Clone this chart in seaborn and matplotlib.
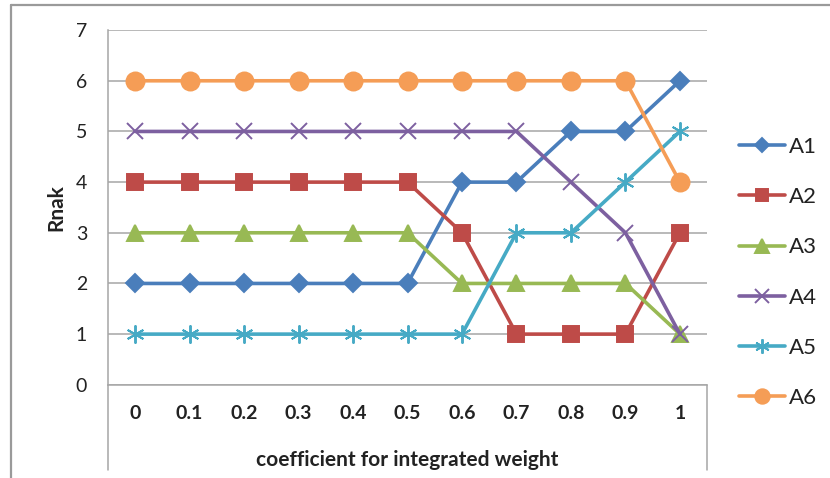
import numpy as np
import pandas as pd
import matplotlib
matplotlib.use("Agg")
import matplotlib.pyplot as plt
from matplotlib.lines import Line2D
import seaborn as sns

categories = ["0", "0.1", "0.2", "0.3", "0.4", "0.5", "0.6", "0.7", "0.8", "0.9", "1"]
A1 = [2, 2, 2, 2, 2, 2, 4, 4, 5, 5, 6]
A2 = [4, 4, 4, 4, 4, 4, 3, 1, 1, 1, 3]
A3 = [3, 3, 3, 3, 3, 3, 2, 2, 2, 2, 1]
A4 = [5, 5, 5, 5, 5, 5, 5, 5, 4, 3, 1]
A5 = [1, 1, 1, 1, 1, 1, 1, 3, 3, 4, 5]
A6 = [6, 6, 6, 6, 6, 6, 6, 6, 6, 6, 4]
series_names = ["A1", "A2", "A3", "A4", "A5", "A6"]
series_values = [A1, A2, A3, A4, A5, A6]
y_ticks = [0, 1, 2, 3, 4, 5, 6, 7]

colors = {"A1": "#4A7EBB", "A2": "#BE4B48", "A3": "#98B954",
          "A4": "#7D60A0", "A5": "#46AAC5", "A6": "#F59D56"}
markers = {"A1": "D", "A2": "s", "A3": "^", "A4": "x", "A5": (6, 2, 0), "A6": "o"}
msizes = {"A1": 9.5, "A2": 11.5, "A3": 12, "A4": 12, "A5": 13, "A6": 13}

rows = []
for name, vals in zip(series_names, series_values):
    for i, v in enumerate(vals):
        rows.append({"pos": i, "cat": categories[i], "rank": v, "series": name})
df = pd.DataFrame(rows)

sns.set_theme(style="white")
plt.rcParams["font.family"] = ["Lato", "DejaVu Sans"]

fig = plt.figure(figsize=(8.3, 4.78), dpi=100)
ax = fig.add_axes([0.130, 0.195, 0.722, 0.742])

for name in series_names:
    sub = df[df["series"] == name]
    sns.lineplot(data=sub, x="pos", y="rank", ax=ax, color=colors[name],
                 linewidth=2.6, marker=markers[name], markersize=msizes[name],
                 markeredgecolor=colors[name], markerfacecolor=colors[name],
                 markeredgewidth=1.4, label=name, legend=False, zorder=3)

ax.set_xlim(-0.5, len(categories) - 0.5)
ax.set_ylim(0, 7)
ax.set_yticks(y_ticks)
ax.set_yticklabels([str(t) for t in y_ticks], fontsize=14, color="#222222")
ax.set_xticks(range(len(categories)))
ax.set_xticklabels(categories, fontsize=14, fontweight="bold", color="#222222")
ax.tick_params(axis="x", length=0, pad=14.5)
ax.tick_params(axis="y", length=0, pad=15)
ax.yaxis.grid(True, color="#a6a6a6", linewidth=1.1)
ax.set_axisbelow(True)
for s in ["top", "right"]:
    ax.spines[s].set_visible(False)
for s in ["left", "bottom"]:
    ax.spines[s].set_color("#a6a6a6")
    ax.spines[s].set_linewidth(1.1)
ax.set_xlabel("coefficient for integrated weight", fontsize=15, fontweight="bold",
              color="#222222", labelpad=20)
ax.set_ylabel("Rnak", fontsize=15, fontweight="bold", color="#222222", labelpad=7)

# multi-level category axis box lines and chart border
W, H = 830.0, 478.0
def fline(x0, y0, x1, y1, c="#a6a6a6", lw=1.1):
    fig.add_artist(Line2D([x0 / W, x1 / W], [1 - y0 / H, 1 - y1 / H],
                          transform=fig.transFigure, color=c, linewidth=lw))
fline(108, 385, 108, 470)
fline(707, 385, 707, 470)
fline(11, 5, 830, 5, c="#9a9a9a", lw=1.6)
fline(11, 5, 11, 478, c="#9a9a9a", lw=1.6)

handles = [Line2D([0], [0], color=colors[n], linewidth=2.6, marker=markers[n],
                  markersize=msizes[n] * 0.8, markerfacecolor=colors[n],
                  markeredgecolor=colors[n], markeredgewidth=1.4) for n in series_names]
leg = fig.legend(handles, series_names, loc="center left", bbox_to_anchor=(0.866, 0.430),
                 frameon=False, fontsize=16, handlelength=2.1, handletextpad=0.15,
                 labelspacing=1.36)
for t in leg.get_texts():
    t.set_color("#222222")

fig.savefig("out.png", dpi=100)
